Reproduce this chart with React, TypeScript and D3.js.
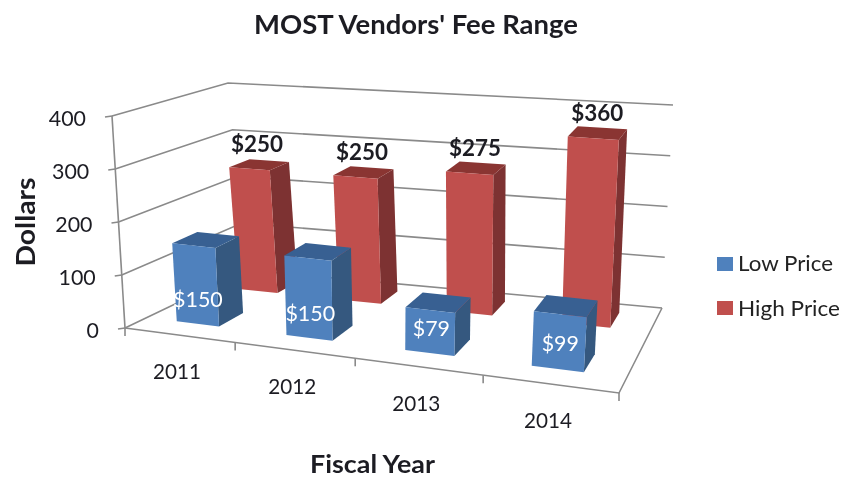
import React from "react";
import * as d3 from "d3";

const years = ["2011", "2012", "2013", "2014"];
const lowPrice = [150, 150, 79, 99];
const highPrice = [250, 250, 275, 360];
const gridValues = [0, 100, 200, 300, 400];
const slotEdges = [0, 0.223, 0.466, 0.725, 1];
const valueMax = 400;

type P = [number, number];
const floorFL: P = [125, 328], floorFR: P = [619, 393], floorBL: P = [246, 270], floorBR: P = [662, 308];
const topFL: P = [112, 116], topFR: P = [634, 165], topBL: P = [228, 83], topBR: P = [673, 105];

const slot = d3.scaleLinear().domain([0, 1, 2, 3, 4]).range(slotEdges);
const unit = d3.scaleLinear().domain([0, 1]);
const height = d3.scaleLinear().domain([0, valueMax]).range([0, 1]);

const bil = (a: P, b: P, c: P, d: P, u: number, v: number): P => {
  const front = d3.interpolateArray(a, b)(u) as number[];
  const back = d3.interpolateArray(c, d)(u) as number[];
  return d3.interpolateArray(front, back)(v) as unknown as P;
};
const project = (u: number, v: number, val: number): P => {
  const lo = bil(floorFL, floorFR, floorBL, floorBR, u, v);
  const hi = bil(topFL, topFR, topBL, topBR, u, v);
  const t = height(val);
  return [unit.range([lo[0], hi[0]])(t), unit.range([lo[1], hi[1]])(t)];
};
const line = d3.line<P>();
const poly = (pts: P[]) => line(pts) + "Z";

const FONT = "Lato, 'Open Sans', sans-serif";
const GRID = "#8a8a8a";
const INK = "#1c1c24";

function Bar({ i, val, span, depth, front, side, top }: any) {
  const uL = slot(i + span[0]);
  const uR = slot(i + span[1]);
  const [vF, vB] = depth;
  const a = project(uL, vF, 0), b = project(uR, vF, 0), c = project(uR, vB, 0);
  const at = project(uL, vF, val), bt = project(uR, vF, val), ct = project(uR, vB, val), dt = project(uL, vB, val);
  return (
    <g>
      <path d={poly([b, c, ct, bt])} fill={side} />
      <path d={poly([at, bt, ct, dt])} fill={top} />
      <path d={poly([a, b, bt, at])} fill={front} />
    </g>
  );
}

const Txt = ({ len, children, ...rest }: any) => (
  <text textLength={len} lengthAdjust="spacingAndGlyphs" {...rest}>{children}</text>
);

export default function App() {
  const blueSpan = [0.28, 0.675], redSpan = [0.27, 0.67];
  const blueDepth = [0.18, 0.4], redDepth = [0.72, 0.9];
  return (
    <svg width={842} height={479} style={{ position: "absolute", left: 0, top: 0 }} fontFamily={FONT}>
      <defs>
        <filter id="soft" x="-5%" y="-5%" width="110%" height="110%">
          <feGaussianBlur stdDeviation={0.5} />
        </filter>
      </defs>
      <rect width={842} height={479} fill="#fff" />
      <g filter="url(#soft)">
        <Txt len={324} x={416} y={34} textAnchor="middle" fontSize={26} fontWeight={700} fill={INK}>MOST Vendors' Fee Range</Txt>

        {gridValues.map((g) => (
          <path key={g} fill="none" stroke={GRID} strokeWidth={1.6}
            d={line([project(0, 0, g), project(0, 1, g), project(1, 1, g)]) as string} />
        ))}
        <path fill="none" stroke={GRID} strokeWidth={1.6}
          d={line([project(0, 0, 0), project(1, 0, 0), project(1, 1, 0)]) as string} />
        <path fill="none" stroke={GRID} strokeWidth={1.6}
          d={line([project(0, 0, 400), project(0, 0, 0)]) as string} />
        {gridValues.map((g) => {
          const p = project(0, 0, g);
          return <line key={g} x1={p[0] - 7} y1={p[1] + 1} x2={p[0]} y2={p[1]} stroke={GRID} strokeWidth={1.6} />;
        })}
        {slotEdges.map((e, i) => {
          const p = project(e, 0, 0);
          return <line key={i} x1={p[0]} y1={p[1]} x2={p[0]} y2={p[1] + 8} stroke={GRID} strokeWidth={1.6} />;
        })}

        {gridValues.map((g) => {
          const p = project(0, 0, g);
          return <Txt key={g} len={String(g).length * 12.4} x={p[0] - 26} y={p[1] + 10} textAnchor="end" fontSize={21.5} fill={INK}>{g}</Txt>;
        })}
        {years.map((y, i) => {
          const p = project(slot(i + 0.5), 0, 0);
          return <Txt key={y} len={48} x={p[0] - 3} y={p[1] + 44} textAnchor="middle" fontSize={21} fill={INK}>{y}</Txt>;
        })}

        {highPrice.map((v, i) => (
          <Bar key={i} i={i} val={v} span={redSpan} depth={redDepth} front="#c0504d" side="#7d3230" top="#8a3533" />
        ))}
        {lowPrice.map((v, i) => (
          <Bar key={i} i={i} val={v} span={blueSpan} depth={blueDepth} front="#4f81bd" side="#34587f" top="#376092" />
        ))}

        {highPrice.map((v, i) => {
          const p = project(slot(i + 0.47), 0.78, v);
          return <Txt key={i} len={52} x={p[0] + 1} y={p[1] - 14} textAnchor="middle" fontSize={22} fontWeight={700} fill={INK}>${v}</Txt>;
        })}
        {lowPrice.map((v, i) => {
          const p = project(slot(i + 0.48), 0.18, 45);
          return <Txt key={i} len={String(v).length * 12.6 + 12} x={p[0] + 1} y={p[1] + 7} textAnchor="middle" fontSize={22} fill="#fff">${v}</Txt>;
        })}

        <Txt len={89} transform="translate(35,222) rotate(-90)" textAnchor="middle" fontSize={26} fontWeight={700} fill={INK}>Dollars</Txt>
        <Txt len={125} x={372.5} y={473} textAnchor="middle" fontSize={24} fontWeight={700} fill={INK}>Fiscal Year</Txt>

        <rect x={717} y={257} width={16} height={14} fill="#4f81bd" />
        <Txt len={95} x={738} y={271} fontSize={21.5} fill="#222">Low Price</Txt>
        <rect x={717} y={301} width={16} height={14} fill="#c0504d" />
        <Txt len={102} x={738} y={316} fontSize={21.5} fill="#222">High Price</Txt>
      </g>
    </svg>
  );
}
